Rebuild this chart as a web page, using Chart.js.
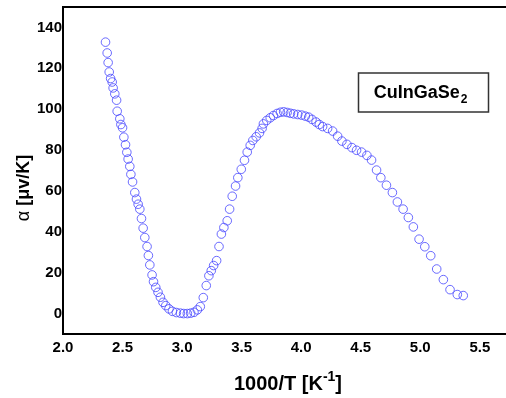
<!DOCTYPE html>
<html>
<head>
<meta charset="utf-8">
<title>CuInGaSe2 thermopower</title>
<script src="https://cdn.jsdelivr.net/npm/chart.js@4/dist/chart.umd.min.js"></script>
<style>
  body { margin: 0; background: #fff; overflow: hidden; }
  canvas { display: block; }
</style>
</head>
<body>
<canvas id="chart" width="506" height="398"></canvas>
<script>
// values
const invT = [
  2.357, 2.371, 2.379, 2.388, 2.400, 2.413, 2.421, 2.435, 2.450, 2.455,
  2.477, 2.486, 2.500, 2.511, 2.525, 2.536, 2.547, 2.561, 2.570, 2.584,
  2.603, 2.617, 2.631, 2.645, 2.659, 2.673, 2.687, 2.706, 2.717, 2.729,
  2.748, 2.760, 2.779, 2.798, 2.818, 2.840, 2.863, 2.890, 2.919, 2.952,
  2.986, 3.013, 3.044, 3.072, 3.100, 3.128, 3.153, 3.178, 3.203, 3.225,
  3.245, 3.265, 3.290, 3.310, 3.330, 3.351, 3.379, 3.399, 3.421, 3.449,
  3.468, 3.497, 3.524, 3.547, 3.572, 3.594, 3.622, 3.650, 3.672, 3.683,
  3.711, 3.740, 3.767, 3.798, 3.826, 3.853, 3.882, 3.910, 3.937, 3.971,
  4.004, 4.035, 4.063, 4.091, 4.125, 4.152, 4.180, 4.222, 4.264, 4.306,
  4.342, 4.384, 4.426, 4.465, 4.507, 4.552, 4.591, 4.633, 4.669, 4.716,
  4.766, 4.808, 4.856, 4.900, 4.942, 4.990, 5.038, 5.088, 5.138, 5.194,
  5.250, 5.311, 5.361
];
const alpha = [
  132.8, 127.5, 122.8, 118.2, 115.0, 113.3, 110.4, 107.5, 104.4, 99.0,
  95.3, 92.5, 90.9, 86.3, 82.6, 78.9, 75.6, 72.0, 68.1, 64.4,
  59.2, 56.0, 53.5, 51.1, 46.5, 41.8, 37.2, 32.8, 28.4, 23.8,
  18.9, 15.6, 12.8, 10.4, 8.0, 5.5, 3.9, 2.3, 1.1, 0.5,
  0.2, 0.0, 0.0, 0.2, 0.6, 1.8, 3.4, 7.8, 13.7, 18.5,
  21.0, 23.5, 25.9, 32.8, 38.9, 42.1, 45.4, 51.1, 57.4, 62.4,
  66.5, 70.6, 75.0, 79.0, 82.3, 84.7, 86.5, 88.4, 90.6, 92.8,
  94.5, 95.8, 96.9, 97.9, 98.5, 98.7, 98.4, 98.0, 97.7, 97.4,
  97.1, 96.6, 96.1, 95.0, 93.7, 92.5, 91.5, 90.6, 89.3, 86.8,
  84.4, 82.8, 81.2, 79.9, 79.0, 77.4, 75.1, 70.2, 66.5, 62.8,
  59.2, 54.6, 51.1, 47.0, 42.4, 36.4, 32.7, 28.3, 21.8, 16.6,
  11.7, 9.3, 8.8
];
const xTicks = [2.0, 2.5, 3.0, 3.5, 4.0, 4.5, 5.0, 5.5];
const yTicks = [0, 20, 40, 60, 80, 100, 120, 140];
const sampleName = "CuInGaSe";

const FONT = "Arial, 'Liberation Sans', sans-serif";

// top frame line, axis titles and the sample label box
const decorations = {
  id: "decorations",
  afterDraw(chart) {
    const ctx = chart.ctx;
    const area = chart.chartArea;
    ctx.save();

    ctx.strokeStyle = "#000";
    ctx.lineWidth = 2;
    ctx.beginPath();
    ctx.moveTo(area.left - 1, area.top);
    ctx.lineTo(area.right, area.top);
    ctx.stroke();

    ctx.fillStyle = "#000";
    ctx.textBaseline = "alphabetic";

    // x title: 1000/T [K^-1]
    const xMain = "1000/T [K";
    const xSup = "-1";
    const xEnd = "]";
    ctx.font = "bold 20px " + FONT;
    const w1 = ctx.measureText(xMain).width;
    const w3 = ctx.measureText(xEnd).width;
    ctx.font = "bold 14px " + FONT;
    const w2 = ctx.measureText(xSup).width;
    let x = 288 - (w1 + w2 + w3) / 2;
    const yb = 390;
    ctx.textAlign = "left";
    ctx.font = "bold 20px " + FONT;
    ctx.fillText(xMain, x, yb);
    x += w1;
    ctx.font = "bold 14px " + FONT;
    ctx.fillText(xSup, x, yb - 9);
    x += w2;
    ctx.font = "bold 20px " + FONT;
    ctx.fillText(xEnd, x, yb);

    // y title: α [μv/K], rotated
    ctx.save();
    ctx.translate(29, 188);
    ctx.rotate(-Math.PI / 2);
    const yA = "\u03b1 ";
    const yB = "[\u03bcv/K]";
    ctx.font = "18px " + FONT;
    const wa = ctx.measureText(yA).width;
    ctx.font = "bold 18px " + FONT;
    const wb = ctx.measureText(yB).width;
    let yx = -(wa + wb) / 2;
    ctx.font = "18px " + FONT;
    ctx.fillText(yA, yx, 0);
    yx += wa;
    ctx.font = "bold 18px " + FONT;
    ctx.fillText(yB, yx, 0);
    ctx.restore();

    // sample label box
    ctx.strokeStyle = "#333";
    ctx.lineWidth = 1.5;
    ctx.strokeRect(358.5, 73, 130, 39);
    ctx.font = "bold 18px " + FONT;
    const wn = ctx.measureText(sampleName).width;
    ctx.font = "bold 12px " + FONT;
    const ws = ctx.measureText("2").width;
    let lx = 420 - (wn + ws) / 2;
    ctx.font = "bold 18px " + FONT;
    ctx.fillText(sampleName, lx, 98);
    ctx.font = "bold 12px " + FONT;
    ctx.fillText("2", lx + wn + 1, 103);

    ctx.restore();
  }
};

new Chart(document.getElementById("chart"), {
  type: "scatter",
  data: {
    datasets: [{
      data: invT.map((v, i) => ({ x: v, y: alpha[i] })),
      showLine: false,
      pointStyle: "circle",
      pointRadius: 4.3,
      pointBorderWidth: 1,
      pointBorderColor: "rgba(70, 70, 255, 0.8)",
      pointBackgroundColor: "rgba(0, 0, 0, 0)",
      clip: false
    }]
  },
  options: {
    responsive: false,
    animation: false,
    events: [],
    layout: { autoPadding: false, padding: { top: 7, right: 0, left: 0, bottom: 0 } },
    plugins: {
      legend: { display: false },
      tooltip: { enabled: false }
    },
    scales: {
      x: {
        type: "linear",
        min: 2.0,
        max: 5.72,
        grid: { display: false, drawTicks: false },
        border: { display: true, color: "#000", width: 2 },
        afterBuildTicks: s => { s.ticks = xTicks.map(v => ({ value: v })); },
        afterFit: s => {
          s.height = 64;
          s.paddingLeft = 0;
          s.paddingRight = 0;
        },
        ticks: {
          padding: 5,
          color: "#000",
          font: { family: FONT, size: 15, weight: "bold" },
          callback: v => v.toFixed(1)
        }
      },
      y: {
        type: "linear",
        min: -10,
        max: 150,
        grid: { display: false, drawTicks: false },
        border: { display: true, color: "#000", width: 2 },
        afterBuildTicks: s => { s.ticks = yTicks.map(v => ({ value: v })); },
        afterFit: s => {
          s.width = 63;
          s.paddingTop = 0;
          s.paddingBottom = 0;
        },
        ticks: {
          padding: 1,
          color: "#000",
          font: { family: FONT, size: 15, weight: "bold" }
        }
      }
    }
  },
  plugins: [decorations]
});
</script>
</body>
</html>
